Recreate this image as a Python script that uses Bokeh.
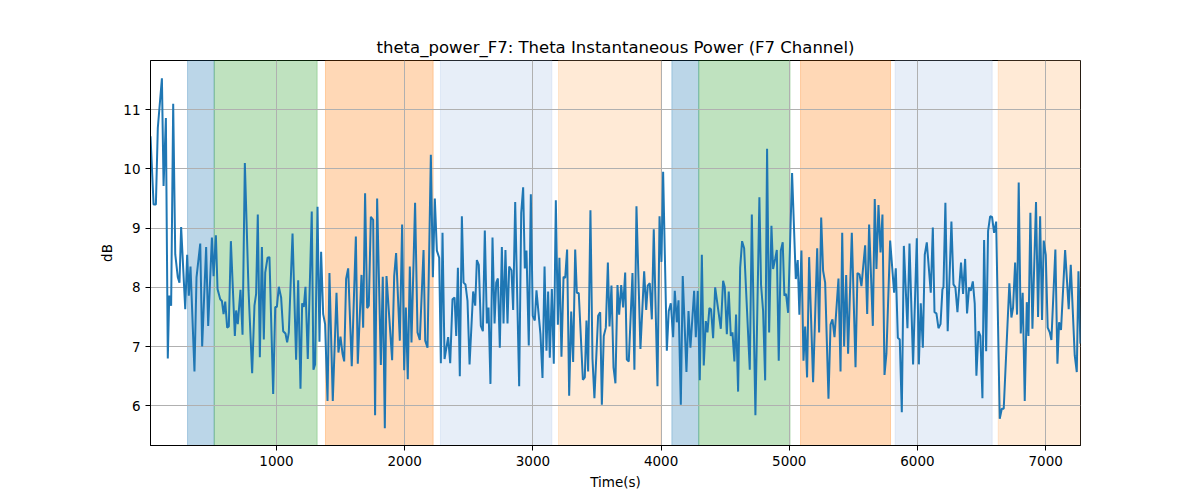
from bokeh.plotting import figure
from bokeh.models import Range1d, BoxAnnotation, FixedTicker
from bokeh.embed import file_html
from bokeh.resources import INLINE

title_text = "theta_power_F7: Theta Instantaneous Power (F7 Channel)"
x_label = "Time(s)"
y_label = "dB"

time_s = [17, 41, 59, 74, 106, 119, 137, 152, 163, 178, 194, 210, 230, 243, 256, 288, 303, 316, 329, 360,
          376, 405, 420, 451, 467, 496, 509, 527, 540, 561, 574, 587, 600, 615, 628, 644, 675, 685, 698, 719,
          735, 753, 782, 810, 828, 841, 854, 870, 886, 901, 912, 930, 945, 974, 990, 1003, 1018, 1036,
          1052, 1070, 1083, 1096, 1125, 1153, 1169, 1187, 1200, 1213, 1226, 1244, 1275, 1288, 1301, 1320,
          1335, 1348, 1364, 1379, 1398, 1413, 1439, 1468, 1483, 1499, 1515, 1528, 1543, 1559, 1587, 1619,
          1634, 1663, 1676, 1691, 1707, 1720, 1736, 1754, 1769, 1785, 1814, 1829, 1845, 1858, 1902, 1918,
          1933, 1962, 1980, 1996, 2009, 2024, 2040, 2053, 2081,
          2100, 2118, 2147, 2160, 2178, 2204, 2220, 2235, 2251, 2269, 2282, 2295, 2311, 2339, 2355, 2373,
          2389, 2402, 2415, 2430, 2446, 2459, 2474, 2490, 2506, 2534, 2550, 2563, 2578, 2594, 2610, 2625,
          2641, 2654, 2669, 2685, 2701, 2714, 2727, 2742, 2758, 2771, 2786, 2802, 2815, 2833, 2846, 2862,
          2893, 2909, 2924, 2937, 2950, 2968, 2984, 2999, 3015, 3028, 3059, 3075, 3091, 3106,
          3119, 3132, 3148, 3163, 3179, 3195, 3207, 3223, 3239, 3252, 3267, 3283, 3299, 3314, 3330, 3343,
          3358, 3390, 3405, 3418, 3431, 3449, 3465, 3480, 3509, 3525, 3538, 3553, 3569, 3585, 3598, 3613,
          3629, 3644, 3660, 3673, 3689, 3704, 3720, 3733, 3748, 3777, 3792, 3808, 3839, 3868, 3884, 3896,
          3912, 3928, 3943, 3972, 3988, 4003, 4016, 4045, 4060, 4076, 4094, 4107, 4123, 4136,
          4154, 4169, 4198, 4214, 4229, 4258, 4271, 4286, 4302, 4318, 4333, 4349, 4362, 4377, 4390, 4406,
          4422, 4466, 4484, 4497, 4513, 4528, 4544, 4557, 4572, 4585, 4601, 4617, 4632, 4648, 4692, 4708,
          4736, 4767, 4780, 4796, 4812, 4827, 4843, 4861, 4874, 4890, 4903, 4918, 4934, 4949, 4962, 4975,
          4991, 5022, 5051, 5066, 5079, 5095, 5111, 5124, 5139, 5155,
          5186, 5218, 5233, 5249, 5264, 5280, 5306, 5322, 5337, 5353, 5384, 5400, 5413, 5428, 5444, 5459,
          5488, 5517, 5532, 5548, 5563, 5592, 5608, 5623, 5652, 5667, 5680, 5696, 5712, 5727, 5743, 5758,
          5787, 5818, 5831, 5847, 5862, 5878, 5894, 5922, 5938, 5966, 5995, 6011, 6026, 6042, 6057, 6073,
          6104, 6120, 6133, 6148, 6164, 6180, 6195,
          6203, 6218, 6236, 6265, 6281, 6296, 6312, 6340, 6356, 6372, 6387, 6403, 6416, 6432, 6447, 6460,
          6476, 6491, 6507, 6520, 6536, 6551, 6567, 6582, 6598, 6614, 6642, 6658, 6673, 6717, 6733, 6746,
          6762, 6777, 6790, 6806, 6821, 6837, 6853, 6866, 6881, 6897, 6925, 6941, 6957, 6972, 6985, 7001,
          7016, 7032, 7045, 7076, 7092, 7105, 7120, 7152, 7180, 7196, 7227, 7243, 7256, 7271]

power_db = [10.55, 9.40, 9.40, 10.69, 11.53, 9.71, 10.86, 6.80, 7.86, 7.69, 11.10, 8.56, 8.17, 8.08, 9.02, 7.63,
            8.55, 7.86, 8.35, 6.58, 8.17, 8.74, 7.00, 8.68, 7.35, 8.84, 8.19, 8.88, 7.97, 7.80, 7.77, 7.55,
            7.76, 7.32, 7.34, 8.78, 7.18, 7.61, 7.38, 7.96, 7.20, 10.10, 7.94, 6.55, 7.69, 7.89, 9.23, 6.82,
            8.68, 7.12, 8.25, 8.50, 8.51, 6.20, 7.67, 7.67, 8.01, 7.83,
            7.26, 7.22, 7.07, 7.24, 8.91, 6.78, 8.12, 6.29, 7.73, 7.67, 8.01, 6.79, 9.28, 6.61, 6.70, 9.36,
            7.08, 8.60, 7.55, 7.38, 6.08, 8.24, 6.08, 7.91, 6.90, 7.17, 6.88, 6.75, 8.14, 8.32, 6.67, 8.86,
            6.71, 8.21, 7.32, 9.59, 7.65, 7.69, 9.19, 9.14, 5.84, 9.50, 6.69, 8.18, 5.62, 8.19, 6.77, 8.19,
            8.58, 7.10, 9.06, 6.60, 7.66, 6.45, 8.35, 7.07, 9.43,
            7.24, 7.11, 8.63, 7.10, 6.98, 10.24, 8.17, 9.50, 8.62, 8.50, 6.72, 8.92, 6.79, 7.16, 6.72, 7.80,
            7.83, 7.18, 8.33, 6.50, 9.20, 8.08, 8.05, 7.77, 6.70, 7.93, 7.69, 8.46, 8.38, 7.35, 7.26, 8.96,
            7.39, 7.66, 6.37, 8.84, 7.39, 8.08, 8.15, 6.98, 8.68, 7.39, 8.63, 7.39, 8.35, 8.29, 7.62, 9.44,
            6.33, 9.26, 9.69, 8.32, 8.62, 7.02, 9.57, 7.52, 7.44, 7.95, 7.21, 6.47, 8.35, 6.93,
            7.93, 6.81, 7.97, 6.71, 9.47, 7.37, 8.50, 6.83, 8.18, 8.16, 8.64, 6.17, 7.59, 6.74, 8.64, 7.91,
            7.90, 6.44, 6.48, 7.44, 6.58, 9.30, 6.79, 6.13, 7.52, 7.58, 6.02, 7.18, 7.32, 8.42, 7.34, 8.03,
            6.65, 6.38, 8.04, 7.54, 8.04, 7.66, 8.25, 6.78, 6.75, 8.24, 6.61, 9.37, 6.96, 8.27, 7.62, 8.03,
            8.07, 7.46, 8.98, 6.33, 9.20, 8.43, 9.95, 6.93, 7.60, 7.73, 7.16, 7.94, 7.41, 7.78,
            6.02, 8.19, 6.57, 7.60, 6.98, 7.94, 7.16, 7.94, 6.43, 8.55, 6.68, 7.43, 7.24, 7.65, 7.63, 7.14,
            8.00, 7.30, 8.11, 8.00, 7.21, 7.93, 7.18, 7.24, 6.75, 7.54, 6.24, 8.33, 8.78, 8.66, 6.61, 9.23,
            5.84, 9.52, 8.04, 7.60, 6.43, 10.34, 7.24, 9.04, 8.31, 8.48, 8.63, 6.76, 8.62, 8.76, 7.86, 7.89,
            7.57, 9.93, 8.14, 8.46, 7.54, 8.62, 6.76, 7.34, 6.48, 8.51,
            6.40, 8.66, 7.24, 9.18, 8.28, 8.08, 6.12, 7.37, 7.46, 7.16, 8.15, 6.58, 8.92, 7.00, 8.21, 6.88,
            8.92, 6.65, 8.24, 8.22, 8.02, 8.71, 7.55, 9.06, 7.35, 9.49, 8.31, 9.39, 8.59, 9.23, 6.52, 6.88,
            8.79, 7.91, 8.32, 7.15, 7.12, 5.89, 8.70, 7.31, 8.74, 6.70, 8.83, 6.70, 7.73, 6.98, 8.55, 8.76,
            7.91, 9.01, 7.58, 7.56, 7.31, 7.38, 7.97,
            8.00, 9.43, 7.26, 9.11, 8.05, 8.00, 7.58, 8.42, 7.89, 8.48, 7.56, 8.00, 7.94, 8.10, 7.72, 6.51,
            7.26, 7.18, 6.13, 8.80, 6.92, 8.95, 9.20, 9.19, 8.92, 9.11, 5.78, 5.95, 5.95, 8.07, 7.49, 7.66,
            8.42, 7.54, 9.77, 7.22, 7.91, 6.08, 7.75, 7.18, 9.26, 7.30, 9.44, 7.50, 9.20, 7.45, 8.79, 8.55,
            7.32, 7.24, 7.11, 8.64, 6.71, 7.41, 7.28, 8.63, 7.63, 8.38, 6.85, 6.57, 8.27, 7.05]

span_starts = [306, 514, 1382, 2279, 3200, 4084, 4294, 5088, 5826, 6630]
span_ends = [514, 1317, 2222, 3148, 4000, 4294, 5006, 5790, 6583, 7300]
span_colors = ["#1f77b4", "#2ca02c", "#ff7f0e", "#aec7e8", "#ffbb78",
               "#1f77b4", "#2ca02c", "#ff7f0e", "#aec7e8", "#ffbb78"]

x_ticks = [1000, 2000, 3000, 4000, 5000, 6000, 7000]
y_ticks = [6, 7, 8, 9, 10, 11]

p = figure(width=1200, height=500, output_backend="svg", toolbar_location=None,
           x_range=Range1d(17, 7272), y_range=Range1d(5.33, 11.83),
           min_border_left=150, min_border_right=120, min_border_top=60, min_border_bottom=55,
           title=title_text)

for s, e, c in zip(span_starts, span_ends, span_colors):
    p.add_layout(BoxAnnotation(left=s, right=e, fill_color=c, fill_alpha=0.3,
                               line_color=c, line_alpha=0.3, line_width=1, level="image"))

p.line(time_s, power_db, line_color="#1f77b4", line_width=2)

p.title.align = "center"
p.title.text_font = "DejaVu Sans"
p.title.text_font_size = "16.5px"
p.title.text_font_style = "normal"
p.title.text_color = "black"
p.title.standoff = 8

p.xaxis.ticker = FixedTicker(ticks=x_ticks)
p.yaxis.ticker = FixedTicker(ticks=y_ticks)
p.xaxis.axis_label = x_label
p.yaxis.axis_label = y_label
for ax in (p.xaxis, p.yaxis):
    ax.axis_label_text_font = "DejaVu Sans"
    ax.axis_label_text_font_size = "13.5px"
    ax.axis_label_text_font_style = "normal"
    ax.axis_label_text_color = "black"
    ax.major_label_text_font = "DejaVu Sans"
    ax.major_label_text_font_size = "13.5px"
    ax.major_label_text_color = "black"
    ax.major_tick_out = 5
    ax.major_tick_in = 0
    ax.minor_tick_out = 0
    ax.minor_tick_in = 0
    ax.axis_line_color = "black"
    ax.major_tick_line_color = "black"
    ax.axis_label_standoff = 5
    ax.major_label_standoff = 5

p.xgrid.grid_line_color = "#b0b0b0"
p.ygrid.grid_line_color = "#b0b0b0"
p.xgrid.grid_line_width = 1
p.ygrid.grid_line_width = 1
p.outline_line_color = "black"
p.outline_line_width = 1
p.background_fill_color = "white"
p.border_fill_color = "white"

open("out.html", "w").write(file_html(p, INLINE))
